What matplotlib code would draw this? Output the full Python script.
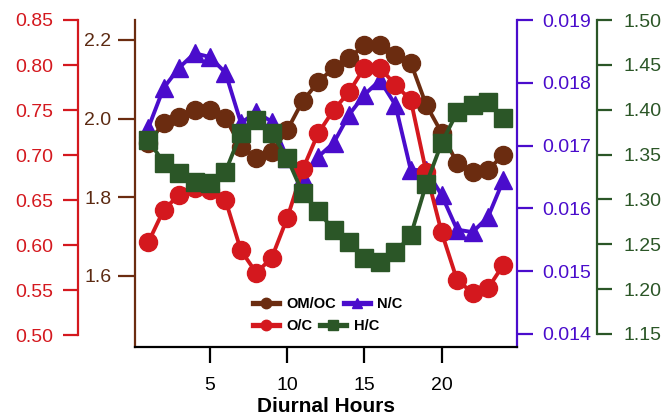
import matplotlib
matplotlib.use('Agg')
import matplotlib.pyplot as plt
from matplotlib.lines import Line2D

plt.rcParams['font.family'] = ['Liberation Sans', 'DejaVu Sans']

hours = list(range(1, 25))
om_oc = [1.938, 1.989, 2.004, 2.022, 2.022, 2.002, 1.928, 1.900, 1.915, 1.971,
         2.045, 2.093, 2.129, 2.154, 2.187, 2.187, 2.162, 2.142, 2.035, 1.964,
         1.887, 1.864, 1.870, 1.908]
o_c = [0.603, 0.639, 0.656, 0.663, 0.661, 0.650, 0.594, 0.569, 0.586, 0.630,
       0.684, 0.724, 0.750, 0.770, 0.797, 0.797, 0.778, 0.761, 0.681, 0.614,
       0.561, 0.547, 0.552, 0.578]
n_c = [0.01728, 0.01792, 0.01824, 0.01847, 0.01841, 0.01816, 0.01736, 0.01753,
       0.01738, 0.01680, 0.01650, 0.01682, 0.01704, 0.01749, 0.01781, 0.01804,
       0.01765, 0.01661, 0.01661, 0.01621, 0.01566, 0.01562, 0.01586, 0.01645]
h_c = [1.366, 1.341, 1.329, 1.319, 1.318, 1.331, 1.374, 1.389, 1.374, 1.346,
       1.307, 1.287, 1.266, 1.253, 1.235, 1.230, 1.241, 1.260, 1.317, 1.363,
       1.397, 1.405, 1.409, 1.391]

x_ticks = [5, 10, 15, 20]
om_ticks = [1.6, 1.8, 2.0, 2.2]
o_ticks = [0.50, 0.55, 0.60, 0.65, 0.70, 0.75, 0.80, 0.85]
n_ticks = [0.014, 0.015, 0.016, 0.017, 0.018, 0.019]
h_ticks = [1.15, 1.20, 1.25, 1.30, 1.35, 1.40, 1.45, 1.50]

BROWN = '#6b2c10'
BROWN_T = '#5c2a12'
RED = '#d4181e'
PURPLE = '#4a0ccc'
GREEN = '#2b5627'

W, H = 665, 419
fig = plt.figure(figsize=(W / 100, H / 100), dpi=100)
L, R, B, T = 135, 517, 347, 20
rect = [L / W, 1 - B / H, (R - L) / W, (B - T) / H]
ax = fig.add_axes(rect)
ax_n = ax.twinx()
ax_o = ax.twinx()
ax_h = ax.twinx()
ax.patch.set_visible(False)
ax_n.set_zorder(1)
ax.set_zorder(2)
ax_o.set_zorder(3)
ax_h.set_zorder(4)

lw = 2.8
ax_n.plot(hours, n_c, '-^', color=PURPLE, ms=13.5, lw=lw, mec=PURPLE)
ax.plot(hours, om_oc, '-o', color=BROWN, ms=13, lw=lw, mec=BROWN)
ax_o.plot(hours, o_c, '-o', color=RED, ms=13, lw=lw, mec=RED)
ax_h.plot(hours, h_c, '-s', color=GREEN, ms=13, lw=lw, mec=GREEN)

ax.set_xlim(0.14, 24.88)
ax.set_xticks(x_ticks)
ax.set_ylim(1.4195, 2.2508)
ax.set_yticks(om_ticks)
ax.set_yticklabels([f'{v:.1f}' for v in om_ticks])
ax_o.set_ylim(0.4867, 0.85)
ax_o.set_yticks(o_ticks)
ax_o.set_yticklabels([f'{v:.2f}' for v in o_ticks])
ax_n.set_ylim(0.01379, 0.019)
ax_n.set_yticks(n_ticks)
ax_n.set_yticklabels([f'{v:.3f}' for v in n_ticks])
ax_h.set_ylim(1.1355, 1.50)
ax_h.set_yticks(h_ticks)
ax_h.set_yticklabels([f'{v:.2f}' for v in h_ticks])

for a in (ax, ax_n, ax_o, ax_h):
    for s in a.spines.values():
        s.set_visible(False)
        s.set_linewidth(1.6)

ax.spines['bottom'].set_visible(True)
ax.spines['bottom'].set_color('black')
ax.spines['left'].set_visible(True)
ax.spines['left'].set_color(BROWN)
ax.tick_params(axis='x', direction='out', length=11.5, width=1.6, pad=10,
               labelsize=14, colors='black')
ax.tick_params(axis='y', direction='out', length=12, width=1.6, pad=5,
               labelsize=14, colors=BROWN, labelcolor=BROWN_T)

ax_n.spines['right'].set_visible(True)
ax_n.spines['right'].set_color(PURPLE)
ax_n.tick_params(axis='y', direction='out', length=11.5, width=1.6, pad=7,
                 labelsize=14, colors=PURPLE)

ax_o.yaxis.tick_left()
ax_o.spines['left'].set_visible(True)
ax_o.spines['left'].set_position(('axes', (78 - L) / (R - L)))
ax_o.spines['left'].set_color(RED)
ax_o.spines['left'].set_bounds(0.50, 0.85)
ax_o.tick_params(axis='y', direction='out', length=11, width=1.6, pad=7,
                 labelsize=14, colors=RED)

ax_h.spines['right'].set_visible(True)
ax_h.spines['right'].set_position(('axes', (597 - L) / (R - L)))
ax_h.spines['right'].set_color(GREEN)
ax_h.spines['right'].set_bounds(1.15, 1.50)
ax_h.tick_params(axis='y', direction='out', length=11, width=1.6, pad=8,
                 labelsize=14, colors=GREEN)

ax.set_xlabel('Diurnal Hours', fontsize=15, fontweight='bold', labelpad=2)

def handle(color, marker, label):
    return Line2D([], [], color=color, marker=marker, ms=7.5, lw=3.8,
                  mec=color, label=label)

row1 = [handle(BROWN, 'o', 'OM/OC'), handle(PURPLE, '^', 'N/C')]
row2 = [handle(RED, 'o', 'O/C'), handle(GREEN, 's', 'H/C')]
for hs, yy in ((row1, 304), (row2, 326)):
    lg = fig.legend(handles=hs, ncol=2, loc='center left',
                    bbox_to_anchor=(253 / W, 1 - yy / H), frameon=False,
                    borderpad=0, borderaxespad=0, handlelength=1.8,
                    handletextpad=0.5, columnspacing=0.5,
                    prop={'weight': 'bold', 'size': 10.5})
    lg.set_zorder(10)

fig.savefig('out.png', dpi=100, facecolor='white')
